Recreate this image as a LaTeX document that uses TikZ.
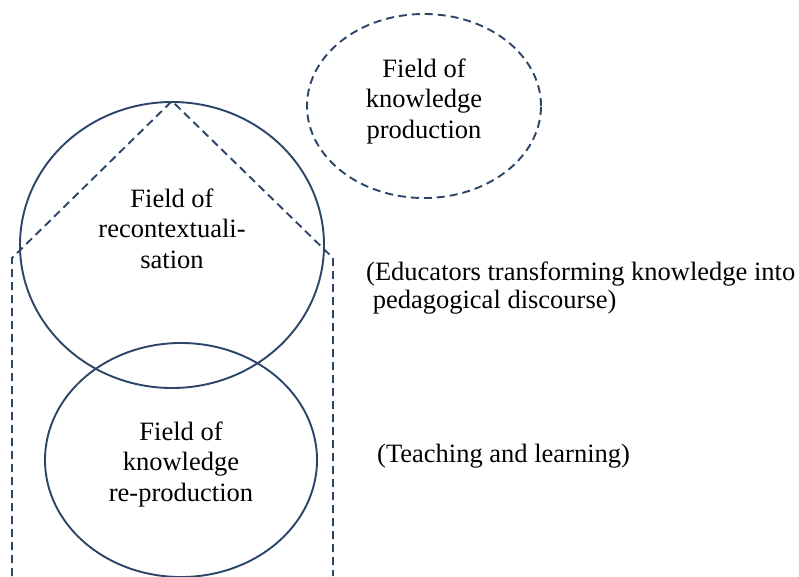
\documentclass[tikz,border=0pt]{standalone}
\usepackage{fontspec}
\setmainfont{Liberation Serif}
\usetikzlibrary{shapes.geometric, positioning}
\definecolor{FieldBlue}{HTML}{2B4468}

\begin{document}
\begin{tikzpicture}[x=1pt, y=-1pt,
    field/.style={ellipse, draw=FieldBlue, line width=1.9pt, inner sep=0pt},
    fielddash/.style={draw=FieldBlue, line width=1.9pt, dash pattern=on 8pt off 5pt},
    fieldtext/.style={align=center, inner sep=0pt, font=\fontsize{26.5}{30.5}\selectfont},
    note/.style={anchor=base west, inner sep=0pt, font=\fontsize{26.5}{28}\selectfont}]
    \useasboundingbox (0,0) rectangle (799,576);

    % Fields
    \node[field, fielddash, minimum width=234pt, minimum height=184pt] (produce) at (424,106) {};
    \node[field, minimum width=304pt, minimum height=286pt] (recon) at (172,245) {};
    \node[field, minimum width=272pt, minimum height=234pt] (reproduce) at (181,460) {};

    % Field labels
    \node[fieldtext] (producelabel) at (424,101.3) {Field of\\knowledge\\production};
    \node[fieldtext] (reconlabel) at (172,228.5) {Field of\\recontextuali-\\sation};
    \node[fieldtext] (reproducelabel) at (181,464.3) {Field of\\knowledge\\re-production};

    % Dashed outline
    \coordinate (leftfoot) at (12,576);
    \coordinate (leftknee) at (12,258);
    \coordinate (rightknee) at (333,258);
    \coordinate (rightfoot) at (333,576);
    \draw[fielddash] (leftfoot) -- (leftknee) -- (recon.north) -- (rightknee) -- (rightfoot);

    % Notes
    \node[note] (educators) at (366,280) {(Educators transforming knowledge into};
    \node[note] (discourse) at (366,308) {\ pedagogical discourse)};
    \node[note] (teaching) at (377,462) {(Teaching and learning)};
\end{tikzpicture}
\end{document}
